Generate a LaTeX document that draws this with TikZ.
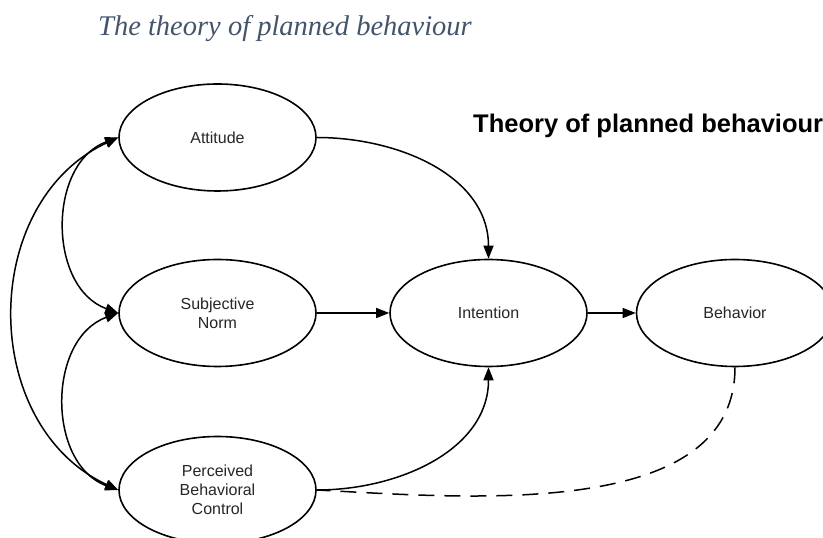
\documentclass[tikz,border=0pt]{standalone}
\usepackage{fontspec}
\setmainfont{Liberation Sans}
\newfontfamily\captionserif{Liberation Serif}
\usepackage{xcolor}
\usetikzlibrary{shapes.geometric}
\usetikzlibrary{arrows.meta}
\definecolor{captionblue}{HTML}{44546A}
\tikzset{construct/.style={draw, ellipse, line width=1.6pt, minimum width=197pt, minimum height=107pt, inner sep=0pt, align=center, font=\fontsize{16}{19}\selectfont, text=black!85}}
\tikzset{link/.style={line width=1.5pt, -{Triangle[length=13pt,width=10pt]}}}
\tikzset{twoway/.style={line width=1.5pt, {Triangle[length=13pt,width=10pt]}-{Triangle[length=13pt,width=10pt]}}}
\tikzset{feedback/.style={line width=1.5pt, dash pattern=on 16pt off 10pt}}

\begin{document}
\begin{tikzpicture}[x=1pt, y=1pt]
    \useasboundingbox (0,0) rectangle (823,538);

    \node[anchor=base west, inner sep=0pt, text=captionblue] at (98,502) (caption){\captionserif\itshape\fontsize{28.5}{34}\selectfont The theory of planned behaviour};
    \node[anchor=base west, inner sep=0pt] at (473,405) (heading){\fontsize{25.5}{30}\selectfont\bfseries Theory of planned behaviour};

    \node[construct] at (217.5,400.5) (att){Attitude};
    \node[construct] at ([yshift=-175.5pt]att.center) (sn){Subjective\\Norm};
    \node[construct] at ([yshift=-177pt]sn.center) (pbc){Perceived\\Behavioral\\Control};

    \node[construct] at ([xshift=271pt]sn.center) (int){Intention};
    \node[construct] at ([xshift=246.5pt]int.center) (beh){Behavior};

    \draw[link] (att.east) to[out=0,in=90] (int.north);
    \draw[link] (sn.east) -- (int.west);
    \draw[link] (pbc.east) to[out=0,in=-90] (int.south);
    \draw[link] (int.east) -- (beh.west);

    \draw[twoway] (att.west) to[out=200,in=160,looseness=1.1] (sn.west);
    \draw[twoway] (sn.west) to[out=200,in=160,looseness=1.1] (pbc.west);
    \draw[twoway] (att.west) to[out=205,in=155,looseness=1.12] (pbc.west);

    \draw[feedback] (beh.south) to[out=-90,in=-3,looseness=0.9] (pbc.east);
  \end{tikzpicture}
\end{document}
